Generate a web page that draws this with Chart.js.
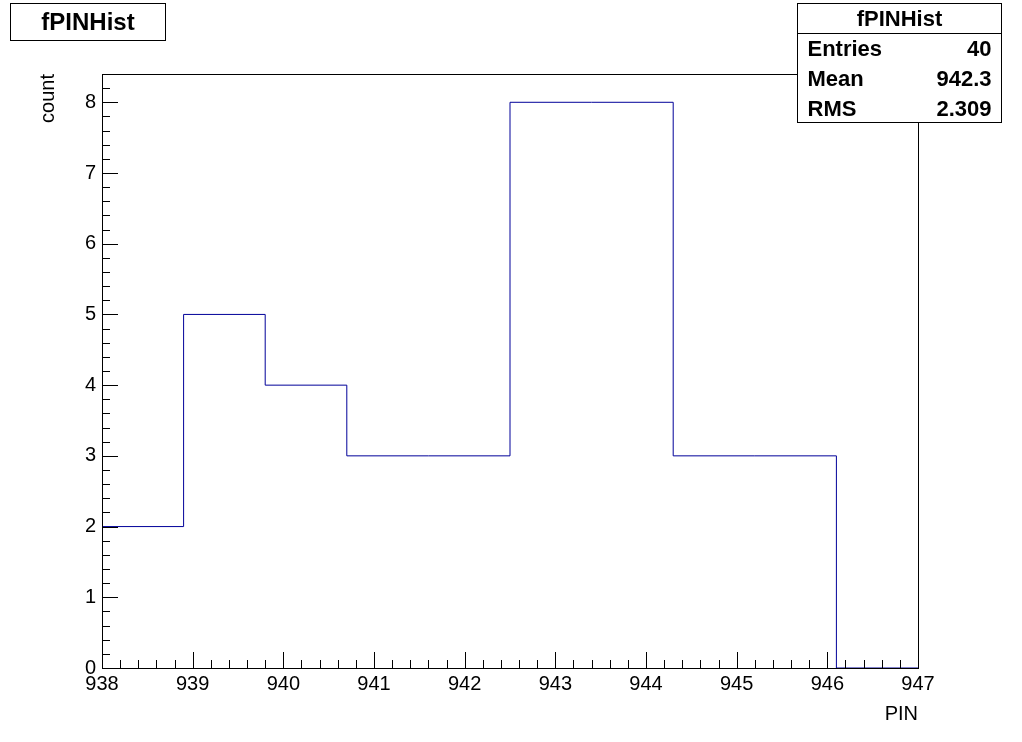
<!DOCTYPE html>
<html>
<head>
<meta charset="utf-8">
<script src="https://cdn.jsdelivr.net/npm/chart.js@4"></script>
<style>
  body { margin: 0; background: #fff; }
  #wrap { width: 1022px; height: 742px; }
</style>
</head>
<body>
<div id="wrap"><canvas id="hist"></canvas></div>
<script>
// Histogram data (bin width 0.9 from 938 to 947)
const binEdges = [938, 938.9, 939.8, 940.7, 941.6, 942.5, 943.4, 944.3, 945.2, 946.1, 947];
const binCounts = [2, 5, 4, 3, 3, 8, 8, 3, 3, 0];
const xTicks = [938, 939, 940, 941, 942, 943, 944, 945, 946, 947];
const yTicks = [0, 1, 2, 3, 4, 5, 6, 7, 8];
const statsRows = [['Entries', '40'], ['Mean', '942.3'], ['RMS', '2.309']];

const points = binEdges.map((x, i) => ({ x: x, y: i < binCounts.length ? binCounts[i] : 0 }));

const FONT = '"Liberation Sans", Arial, sans-serif';

// ROOT-style frame, ticks, labels, title and stats box
const rootStyle = {
    id: 'rootStyle',
    afterDraw(chart) {
        const ctx = chart.ctx;
        const a = chart.chartArea;
        const xs = chart.scales.x, ys = chart.scales.y;
        ctx.save();
        ctx.strokeStyle = '#000';
        ctx.lineWidth = 1;
        ctx.strokeRect(a.left + 0.5, a.top + 0.5, a.right - a.left, a.bottom - a.top);

        ctx.beginPath();
        for (let v = 938; v <= 947.001; v += 0.2) {
            const px = Math.round(xs.getPixelForValue(v)) + 0.5;
            const major = Math.abs(v - Math.round(v)) < 0.01;
            ctx.moveTo(px, a.bottom);
            ctx.lineTo(px, a.bottom - (major ? 16 : 8));
        }
        for (let v = 0; v <= 8.4; v += 0.2) {
            const py = Math.round(ys.getPixelForValue(v)) + 0.5;
            const major = Math.abs(v - Math.round(v)) < 0.01;
            ctx.moveTo(a.left, py);
            ctx.lineTo(a.left + (major ? 16 : 8), py);
        }
        ctx.stroke();

        ctx.fillStyle = '#000';
        ctx.font = '20px ' + FONT;
        ctx.textAlign = 'center';
        ctx.textBaseline = 'top';
        xTicks.forEach(v => ctx.fillText(String(v), xs.getPixelForValue(v), 674));
        ctx.textAlign = 'right';
        ctx.textBaseline = 'middle';
        yTicks.forEach(v => ctx.fillText(String(v), 96, ys.getPixelForValue(v)));

        // axis titles
        ctx.textAlign = 'right';
        ctx.textBaseline = 'alphabetic';
        ctx.fillText('PIN', a.right, 720);
        ctx.save();
        ctx.translate(54, a.top);
        ctx.rotate(-Math.PI / 2);
        ctx.fillText('count', 0, 0);
        ctx.restore();

        // title box
        ctx.fillStyle = '#fff';
        ctx.fillRect(10.5, 3.5, 155, 37);
        ctx.strokeRect(10.5, 3.5, 155, 37);
        ctx.fillStyle = '#000';
        ctx.font = 'bold 24px ' + FONT;
        ctx.textAlign = 'center';
        ctx.textBaseline = 'middle';
        ctx.fillText('fPINHist', 88, 23);

        // stats box
        const bx = 797.5, by = 3.5, bw = 204, bh = 119;
        ctx.fillStyle = '#fff';
        ctx.fillRect(bx, by, bw, bh);
        ctx.strokeRect(bx, by, bw, bh);
        ctx.beginPath();
        ctx.moveTo(bx, by + 30);
        ctx.lineTo(bx + bw, by + 30);
        ctx.stroke();
        ctx.fillStyle = '#000';
        ctx.font = 'bold 22px ' + FONT;
        ctx.fillText('fPINHist', bx + bw / 2, by + 16);
        statsRows.forEach((r, i) => {
            const y = by + 46 + i * 30;
            ctx.textAlign = 'left';
            ctx.fillText(r[0], bx + 10, y);
            ctx.textAlign = 'right';
            ctx.fillText(r[1], bx + bw - 10, y);
        });
        ctx.restore();
    }
};

new Chart(document.getElementById('hist'), {
    type: 'line',
    data: {
        datasets: [{
            data: points,
            stepped: 'before',
            borderColor: '#000099',
            borderWidth: 1,
            pointRadius: 0,
            fill: false
        }]
    },
    options: {
        responsive: true,
        maintainAspectRatio: false,
        animation: false,
        layout: { padding: { left: 102, right: 104, top: 74, bottom: 74 } },
        plugins: { legend: { display: false }, tooltip: { enabled: false } },
        scales: {
            x: { type: 'linear', min: 938, max: 947, display: false },
            y: { type: 'linear', min: 0, max: 8.4, display: false }
        }
    },
    plugins: [rootStyle]
});
</script>
</body>
</html>
